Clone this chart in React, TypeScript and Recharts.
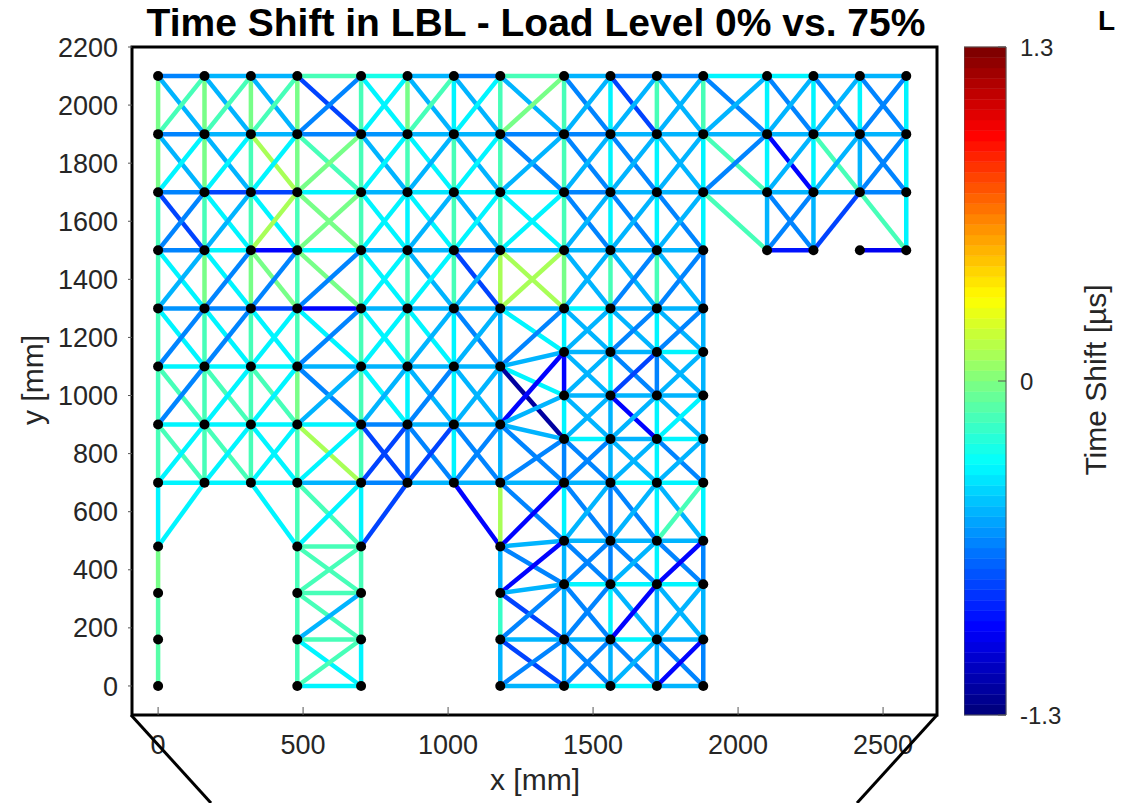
import React from "react";
import {
  ScatterChart,
  XAxis,
  YAxis,
  ReferenceLine,
  ReferenceArea,
  Scatter,
} from "recharts";

// colour scale of the time shift [µs]
const C_MIN = -1.3;
const C_MAX = 1.3;
const C_TICKS = [-1.3, 0, 1.3];

const X_TICKS = [0, 500, 1000, 1500, 2000, 2500];
const Y_TICKS = [0, 200, 400, 600, 800, 1000, 1200, 1400, 1600, 1800, 2000, 2200];
const X_DOMAIN = [-90, 2686];
const Y_DOMAIN = [-100, 2200];

// ---- upper block, rows 2100..1300 ----
const topX = [0, 160, 320, 480, 700, 860, 1020, 1180, 1400, 1560, 1720, 1880, 2100, 2260, 2420, 2580];
const topY = [2100, 1900, 1700, 1500, 1300];
// horizontal members, one row per y
const topH = [
  [-0.64, -0.52, -0.52, -0.15, -0.25, -0.52, -0.64, -0.15, -0.52, -0.64, -0.64, -0.36, -0.36, -0.52, -0.52],
  [-0.64, -0.52, -0.52, -0.64, -0.6, -0.52, -0.52, -0.64, -0.64, -0.52, -0.52, -0.52, -0.52, -0.52, -0.52],
  [-0.64, -0.8, -0.8, -0.36, -0.52, -0.4, -0.36, -0.36, -0.64, -0.52, -0.52, -0.52, -0.52, -0.52, -0.64],
  [-0.64, -0.36, -0.96, -0.36, -0.52, -0.52, -0.64, -0.52, -0.52, -0.52, -0.52, null, -0.9, null, -1.0],
  [-0.6, -0.64, -0.8, -0.96, -0.52, -0.52, -0.52, -0.52, -0.36, -0.52, -0.52, null, null, null, null],
];
// vertical members, one row per x
const topV = [
  [-0.02, -0.02, -0.15, -0.15],
  [-0.02, -0.02, -0.15, -0.02],
  [-0.02, -0.15, -0.15, -0.02],
  [-0.02, -0.02, -0.15, -0.15],
  [-0.15, -0.15, -0.15, -0.15],
  [-0.02, -0.15, -0.36, -0.15],
  [-0.36, -0.15, -0.15, -0.15],
  [-0.15, -0.15, -0.15, 0.1],
  [-0.15, -0.15, -0.15, -0.02],
  [-0.36, -0.36, -0.36, -0.15],
  [-0.15, -0.36, -0.36, -0.15],
  [-0.15, -0.36, -0.36, -0.64],
  [-0.36, -0.36, -0.52, null],
  [-0.36, -0.36, -0.52, null],
  [-0.36, -0.52, null, null],
  [-0.36, -0.36, -0.36, null],
];
// diagonals top-left -> bottom-right
const topDown = [
  [-0.52, -0.52, -0.52, -0.8, -0.36, -0.52, -0.52, -0.52, -0.64, -0.8, -0.52, -0.64, -0.64, -0.64, -0.64],
  [-0.52, -0.52, 0.1, -0.15, -0.52, -0.36, -0.52, -0.64, -0.64, -0.64, -0.52, -0.15, -0.96, -0.15, -0.64],
  [-0.8, -0.36, -0.36, -0.02, -0.36, -0.36, -0.52, -0.36, -0.64, -0.64, -0.64, -0.15, -0.64, null, -0.15],
  [-0.36, -0.36, -0.02, -0.02, -0.36, -0.52, -0.8, 0.1, -0.52, -0.52, -0.52, null, null, null, null],
];
// diagonals bottom-left -> top-right
const topUp = [
  [-0.15, -0.15, -0.15, -0.64, -0.36, -0.15, -0.36, -0.02, -0.52, -0.52, -0.52, -0.52, -0.52, -0.52, -0.64],
  [-0.36, -0.36, -0.36, -0.02, -0.36, -0.52, -0.36, -0.52, -0.52, -0.52, -0.52, -0.64, -0.52, -0.52, -0.64],
  [-0.64, -0.52, 0.1, -0.02, -0.36, -0.52, -0.36, -0.36, -0.52, -0.52, -0.52, null, -0.64, -0.8, null],
  [-0.52, -0.64, -0.64, -0.64, -0.36, -0.36, -0.52, 0.1, -0.52, -0.64, -0.64, null, null, null, null],
];

// ---- middle block, rows 1300..700, x 0..1180 ----
const midX = [0, 160, 320, 480, 700, 860, 1020, 1180];
const midY = [1300, 1100, 900, 700];
const midH = [
  [null, null, null, null, null, null, null],
  [-0.36, -0.36, -0.36, -0.52, -0.52, -0.52, -0.52],
  [-0.36, -0.36, -0.36, -0.36, -0.64, -0.52, -0.52],
  [-0.36, -0.36, -0.36, -0.52, -0.64, -0.52, -0.52],
];
const midV = [
  [-0.15, -0.15, -0.15],
  [-0.15, -0.15, -0.15],
  [-0.15, -0.15, -0.15],
  [-0.15, -0.02, -0.15],
  [-0.15, -0.15, -0.15],
  [-0.15, -0.36, -0.64],
  [-0.36, -0.36, -0.36],
  [-0.52, -0.52, -0.52],
];
const midDown = [
  [-0.36, -0.36, -0.36, -0.36, -0.36, -0.36, -0.64],
  [-0.15, -0.15, -0.15, -0.64, -0.36, -0.52, -0.52],
  [-0.15, -0.15, -0.36, 0.1, -0.8, -0.64, -0.64],
];
const midUp = [
  [-0.64, -0.64, -0.36, -0.64, -0.36, -0.52, -0.52],
  [-0.64, -0.36, -0.36, -0.52, -0.52, -0.64, -0.52],
  [-0.36, -0.36, -0.36, -0.36, -0.8, -0.8, -0.64],
];

// ---- right block, x 1400..1880, rows 1300..0 ----
const rightX = [1400, 1560, 1720, 1880];
const rightY = [1300, 1150, 1000, 850, 700, 500, 350, 160, 0];
const rightH = [
  [null, null, null],
  [-0.52, -0.52, -0.36],
  [-0.52, -0.52, -0.52],
  [-0.36, -0.52, -0.36],
  [-0.52, -0.36, -0.36],
  [-0.52, -0.52, -0.52],
  [-0.36, -0.36, -0.36],
  [-0.52, -0.36, -0.52],
  [-0.36, -0.36, -0.52],
];
const rightV = [
  [-0.36, -0.96, -0.36, -0.64, -0.36, -0.52, -0.52, -0.52],
  [-0.36, -0.36, -0.52, -0.52, -0.64, -0.64, -0.36, -0.52],
  [-0.36, -0.64, -0.36, -0.36, -0.36, -0.36, -0.52, -0.52],
  [-0.52, -0.52, -0.52, -0.52, -0.36, -0.64, -0.52, -0.64],
];
const rightDown = [
  [-0.52, -0.52, -0.52],
  [-0.52, -0.64, -0.52],
  [-0.52, -0.96, -0.52],
  [-0.64, -0.52, -0.64],
  [-0.64, -0.64, -0.52],
  [-0.64, -0.64, -0.64],
  [-0.64, -0.52, -0.52],
  [-0.64, -0.64, -0.64],
];
const rightUp = [
  [-0.52, -0.64, -0.64],
  [-0.52, -0.8, -0.52],
  [-0.52, -0.52, -0.36],
  [-0.64, -0.52, -0.52],
  [-0.52, -0.52, -0.15],
  [-0.64, -0.52, -0.96],
  [-0.64, -0.96, -0.52],
  [-0.64, -0.52, -0.96],
];

// ---- leg under x 480..700 ----
const legX = [480, 700];
const legY = [700, 480, 320, 160, 0];
const legH = [[null], [-0.15], [-0.15], [-0.15], [-0.36]];
const legV = [
  [-0.15, -0.15, -0.15, -0.15],
  [-0.36, -0.15, -0.15, -0.36],
];
const legDown = [[-0.15], [-0.15], [-0.15], [-0.36]];
const legUp = [[-0.36], [-0.15], [-0.52], [-0.15]];

// ---- single members: [x1, y1, x2, y2, shift] ----
const extraMembers = [
  [0, 700, 0, 480, -0.36],
  [0, 480, 0, 320, -0.02],
  [0, 320, 0, 160, -0.1],
  [0, 160, 0, 0, -0.1],
  [160, 700, 0, 480, -0.36],
  [320, 700, 480, 480, -0.36],
  [860, 700, 700, 480, -0.8],
  [1020, 700, 1180, 480, -0.96],
  [1180, 700, 1180, 480, 0.1],
  [1180, 480, 1180, 320, -0.52],
  [1180, 320, 1180, 160, -0.2],
  [1180, 160, 1180, 0, -0.52],
  [1180, 1300, 1400, 1150, -0.36],
  [1180, 1100, 1400, 1300, -0.64],
  [1180, 1100, 1400, 1150, -0.52],
  [1180, 1100, 1400, 1000, -0.36],
  [1180, 1100, 1400, 850, -1.2],
  [1180, 900, 1400, 1150, -0.96],
  [1180, 900, 1400, 1000, -0.52],
  [1180, 900, 1400, 850, -0.52],
  [1180, 900, 1400, 700, -0.64],
  [1180, 700, 1400, 850, -0.64],
  [1180, 700, 1400, 700, -0.52],
  [1180, 700, 1400, 500, -0.64],
  [1180, 480, 1400, 700, -0.96],
  [1180, 480, 1400, 500, -0.52],
  [1180, 480, 1400, 350, -0.64],
  [1180, 320, 1400, 500, -0.96],
  [1180, 320, 1400, 350, -0.52],
  [1180, 320, 1400, 160, -0.8],
  [1180, 160, 1400, 350, -0.64],
  [1180, 160, 1400, 160, -0.52],
  [1180, 160, 1400, 0, -0.8],
  [1180, 0, 1400, 160, -0.64],
  [1180, 0, 1400, 0, -0.52],
];

type Member = { x1: number; y1: number; x2: number; y2: number; v: number };

function gridMembers(xs, ys, h, v, down, up): Member[] {
  const out: Member[] = [];
  ys.forEach((y, r) => {
    for (let c = 0; c < xs.length - 1; c++) {
      if (h[r][c] != null) out.push({ x1: xs[c], y1: y, x2: xs[c + 1], y2: y, v: h[r][c] });
    }
  });
  xs.forEach((x, c) => {
    for (let r = 0; r < ys.length - 1; r++) {
      if (v[c][r] != null) out.push({ x1: x, y1: ys[r], x2: x, y2: ys[r + 1], v: v[c][r] });
    }
  });
  for (let r = 0; r < ys.length - 1; r++) {
    for (let c = 0; c < xs.length - 1; c++) {
      if (down[r][c] != null)
        out.push({ x1: xs[c], y1: ys[r], x2: xs[c + 1], y2: ys[r + 1], v: down[r][c] });
      if (up[r][c] != null)
        out.push({ x1: xs[c], y1: ys[r + 1], x2: xs[c + 1], y2: ys[r], v: up[r][c] });
    }
  }
  return out;
}

const members: Member[] = [
  ...gridMembers(topX, topY, topH, topV, topDown, topUp),
  ...gridMembers(midX, midY, midH, midV, midDown, midUp),
  ...gridMembers(rightX, rightY, rightH, rightV, rightDown, rightUp),
  ...gridMembers(legX, legY, legH, legV, legDown, legUp),
  ...extraMembers.map(([x1, y1, x2, y2, v]) => ({ x1, y1, x2, y2, v })),
];

// sensor nodes = member end points
const nodes = (() => {
  const seen = new Map<string, { x: number; y: number }>();
  members.forEach((m) => {
    seen.set(`${m.x1},${m.y1}`, { x: m.x1, y: m.y1 });
    seen.set(`${m.x2},${m.y2}`, { x: m.x2, y: m.y2 });
  });
  return Array.from(seen.values());
})();

// MATLAB-like jet, 64 steps
const N_COLORS = 64;
function jet(t: number) {
  const ch = (k: number) => Math.round(255 * Math.max(0, Math.min(1, 1.5 - Math.abs(4 * t - k))));
  return `rgb(${ch(3)},${ch(2)},${ch(1)})`;
}
function colorOf(v: number) {
  const idx = Math.max(0, Math.min(N_COLORS - 1, Math.floor(((v - C_MIN) / (C_MAX - C_MIN)) * N_COLORS)));
  return jet(idx / (N_COLORS - 1));
}
const bands = Array.from({ length: N_COLORS }, (_, i) => ({
  x: 0.5,
  y: C_MIN + ((i + 0.5) * (C_MAX - C_MIN)) / N_COLORS,
  y1: C_MIN + (i * (C_MAX - C_MIN)) / N_COLORS,
  y2: C_MIN + ((i + 1) * (C_MAX - C_MIN)) / N_COLORS,
  fill: jet(i / (N_COLORS - 1)),
}));

const FONT = '"Liberation Sans", Arial, Helvetica, sans-serif';
const TXT = "#262626";

export default function App() {
  return (
    <div style={{ position: "absolute", left: 0, top: 0, width: 1127, height: 803, background: "#fff", fontFamily: FONT }}>
      <div style={{ position: "absolute", left: 0, top: 0 }}>
        <ScatterChart width={1127} height={803} margin={{ top: 46, right: 0, bottom: 0, left: 0 }}>
          <XAxis
            type="number"
            dataKey="x"
            domain={X_DOMAIN}
            ticks={X_TICKS}
            interval={0}
            allowDataOverflow
            height={88}
            axisLine={false}
            tickSize={-8}
            tickMargin={28}
            tickLine={{ stroke: "#555" }}
            tick={{ fontSize: 27, fill: TXT, fontFamily: FONT }}
          />
          <XAxis
            xAxisId="top"
            orientation="top"
            type="number"
            domain={X_DOMAIN}
            ticks={X_TICKS}
            interval={0}
            allowDataOverflow
            height={1}
            axisLine={false}
            tick={false}
            tickSize={-8}
            tickLine={{ stroke: "#555" }}
          />
          <YAxis
            type="number"
            dataKey="y"
            domain={Y_DOMAIN}
            ticks={Y_TICKS}
            interval={0}
            allowDataOverflow
            width={132}
            axisLine={false}
            tickSize={4}
            tickMargin={10}
            tickLine={{ stroke: "#555" }}
            tick={{ fontSize: 27, fill: TXT, fontFamily: FONT }}
          />
          <YAxis
            yAxisId="right"
            orientation="right"
            type="number"
            domain={Y_DOMAIN}
            ticks={Y_TICKS}
            interval={0}
            allowDataOverflow
            width={190}
            axisLine={false}
            tick={false}
            tickSize={-8}
            tickLine={{ stroke: "#555" }}
          />
          {members.map((m, i) => (
            <ReferenceLine
              key={`m-${i}`}
              segment={[
                { x: m.x1, y: m.y1 },
                { x: m.x2, y: m.y2 },
              ]}
              stroke={colorOf(m.v)}
              strokeWidth={4.5}
            />
          ))}
          <ReferenceArea
            x1={X_DOMAIN[0]}
            x2={X_DOMAIN[1]}
            y1={Y_DOMAIN[0]}
            y2={Y_DOMAIN[1]}
            fill="none"
            fillOpacity={0}
            stroke="#000"
            strokeWidth={3}
          />
          <Scatter
            data={nodes}
            isAnimationActive={false}
            shape={(p: any) => <circle cx={p.cx} cy={p.cy} r={5} fill="#000" />}
          />
        </ScatterChart>
      </div>

      {/* colour bar */}
      <div style={{ position: "absolute", left: 964, top: 0 }}>
        <ScatterChart width={163} height={803} margin={{ top: 47, right: 0, bottom: 88, left: 0 }}>
          <XAxis type="number" dataKey="x" domain={[0, 1]} hide />
          <YAxis
            type="number"
            dataKey="y"
            orientation="right"
            domain={[C_MIN, C_MAX]}
            ticks={C_TICKS}
            interval={0}
            width={121}
            axisLine={false}
            tickSize={-8}
            tickMargin={22}
            tickLine={{ stroke: "#555" }}
            tick={{ fontSize: 24, fill: TXT, fontFamily: FONT }}
          />
          {bands.map((b, i) => (
            <ReferenceArea
              key={`b-${i}`}
              x1={0}
              x2={1}
              y1={b.y1}
              y2={b.y2}
              fill={b.fill}
              fillOpacity={1}
              stroke={b.fill}
              strokeWidth={0.5}
            />
          ))}
          <ReferenceArea x1={0} x2={1} y1={C_MIN} y2={C_MAX} fill="none" fillOpacity={0} stroke="#555" strokeWidth={1} />
          <Scatter data={bands} isAnimationActive={false} shape={() => <g />} />
        </ScatterChart>
      </div>

      <svg width={1127} height={803} style={{ position: "absolute", left: 0, top: 0, pointerEvents: "none" }}>
        <text x={536} y={36} textAnchor="middle" fontSize={39} fontWeight="bold" fill="#000" fontFamily={FONT}>
          Time Shift in LBL - Load Level 0% vs. 75%
        </text>
        <text x={535} y={790} textAnchor="middle" fontSize={30} fill={TXT} fontFamily={FONT}>
          x [mm]
        </text>
        <text x={43} y={380} textAnchor="middle" fontSize={30} fill={TXT} fontFamily={FONT} transform="rotate(-90 43 380)">
          y [mm]
        </text>
        <text x={1106} y={380} textAnchor="middle" fontSize={30} fill={TXT} fontFamily={FONT} transform="rotate(-90 1106 380)">
          Time Shift [µs]
        </text>
        <text x={1098} y={30} fontSize={28} fontWeight="bold" fill="#000" fontFamily={FONT}>
          L
        </text>
        <line x1={131} y1={715} x2={211} y2={803} stroke="#000" strokeWidth={3} />
        <line x1={937} y1={715} x2={857} y2={803} stroke="#000" strokeWidth={3} />
      </svg>
    </div>
  );
}
